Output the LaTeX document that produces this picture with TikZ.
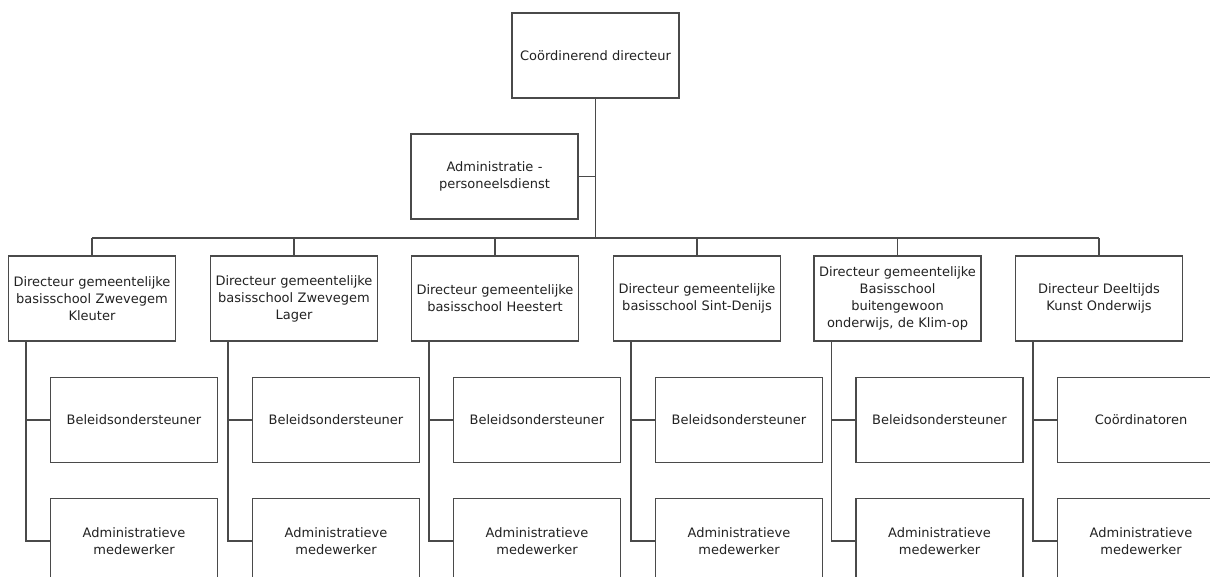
\documentclass[tikz,border=0pt]{standalone}
\usepackage{fontspec}
\setmainfont{DejaVu Sans}
\definecolor{linec}{HTML}{4A4A4A}
\definecolor{textc}{HTML}{222222}
\begin{document}
\begin{tikzpicture}[x=1pt,y=-1pt,
  box/.style={draw=linec, line width=1.1pt, minimum width=167pt, minimum height=85pt,
    text width=165pt, align=center, inner sep=0pt, text=textc,
    font=\fontsize{13}{17}\selectfont},
  link/.style={draw=linec, line width=1.1pt}]
\clip (0,0) rectangle (1210,577);
\fill[white] (0,0) rectangle (1210,577);
\node[box] (top) at (595.5,55.5) {Coördinerend directeur};
\node[box] (adm) at (494.5,176.5) {Administratie -\\personeelsdienst};
\coordinate (bus) at (595.5,238);
\node[box] (d1) at (92,298.5) {Directeur gemeentelijke\\basisschool Zwevegem\\Kleuter};
\node[box] (d2) at (294,298.5) {Directeur gemeentelijke\\basisschool Zwevegem\\Lager};
\node[box] (d3) at (495,298.5) {Directeur gemeentelijke\\basisschool Heestert};
\node[box] (d4) at (697,298.5) {Directeur gemeentelijke\\basisschool Sint-Denijs};
\node[box] (d5) at (897.5,298.5) {Directeur gemeentelijke\\Basisschool\\buitengewoon\\onderwijs, de Klim-op};
\node[box] (d6) at (1099,298.5) {Directeur Deeltijds\\Kunst Onderwijs};
\foreach \i/\x/\t in {1/92/Beleidsondersteuner,2/294/Beleidsondersteuner,3/495/Beleidsondersteuner,4/697/Beleidsondersteuner,5/897.5/Beleidsondersteuner,6/1099/Coördinatoren}{
  \node[box] (b\i) at (\x+42,420) {\t};
  \node[box] (a\i) at (\x+42,541) {Administratieve\\medewerker};
  \coordinate (v\i) at ([xshift=18pt]d\i.south west);
  \draw[link] (v\i) |- (a\i.west);
  \draw[link] (v\i |- b\i.west) -- (b\i.west);
  \draw[link] (d\i.north) -- (d\i.north |- bus);
}
\draw[link] (top.south) -- (bus);
\draw[link] (adm.east) -- (adm.east -| bus);
\draw[link] (d1.north |- bus) -- (d6.north |- bus);
\end{tikzpicture}
\end{document}
